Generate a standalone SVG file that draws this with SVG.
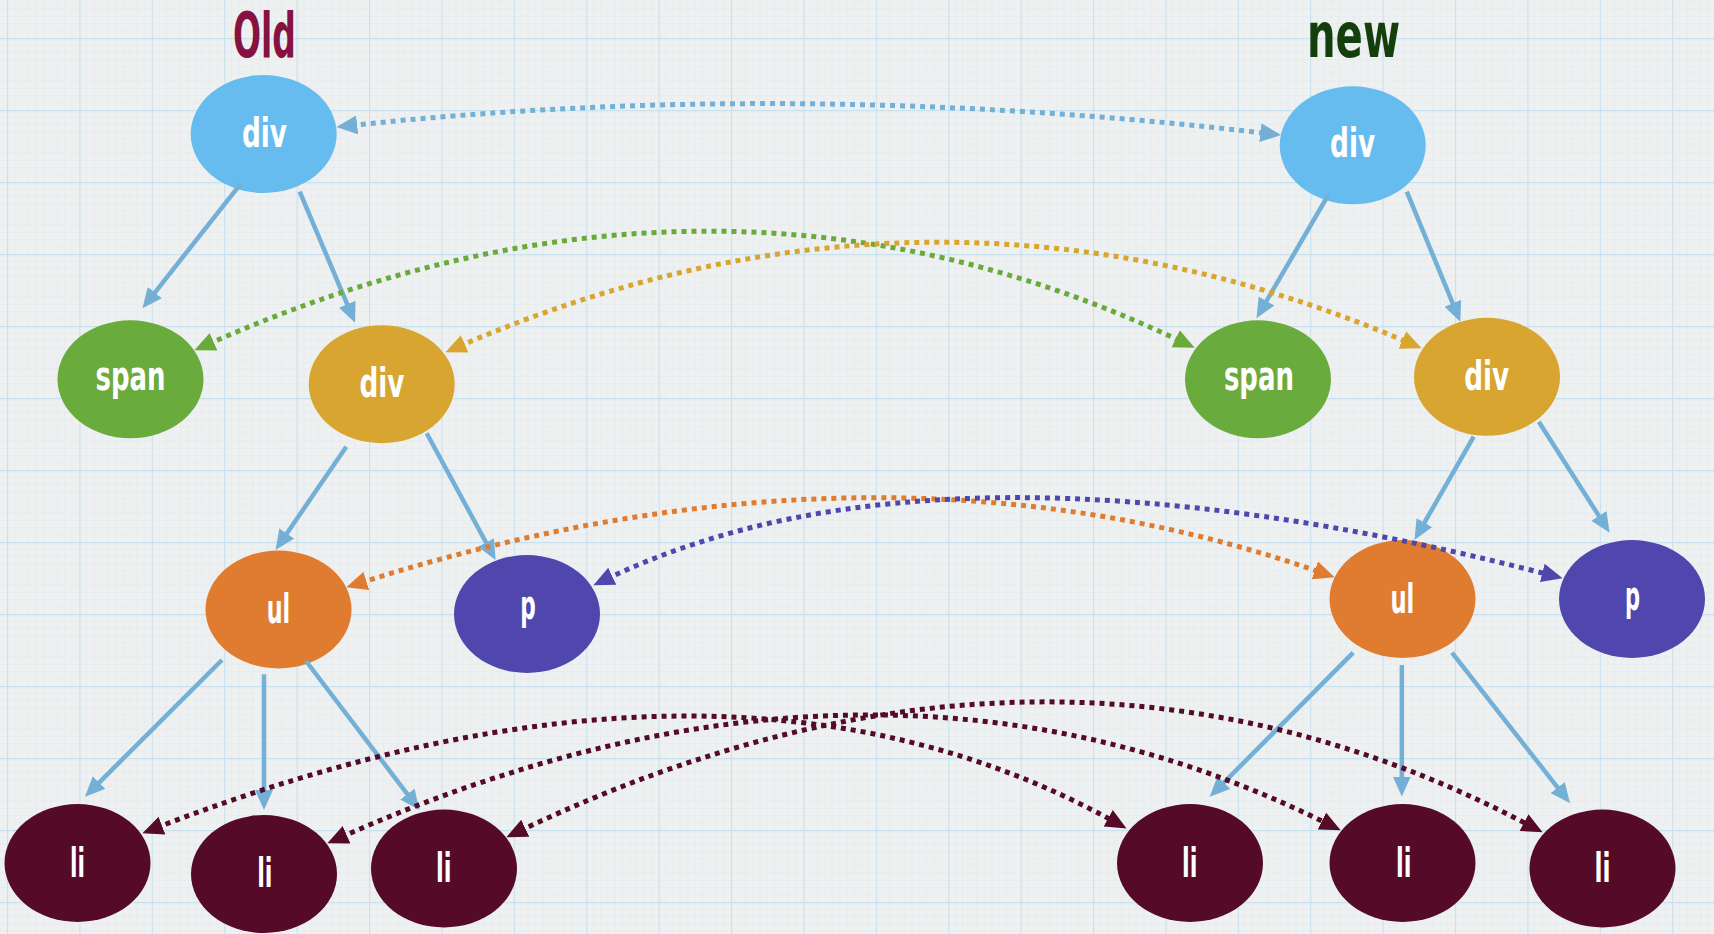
<svg xmlns="http://www.w3.org/2000/svg" width="1714" height="934" viewBox="0 0 1714 934">
  <defs>
    <pattern id="grid" x="7" y="38" width="72.4" height="72" patternUnits="userSpaceOnUse">
      <path d="M7.24,0V72M14.48,0V72M21.72,0V72M28.96,0V72M36.2,0V72M43.44,0V72M50.68,0V72M57.92,0V72M65.16,0V72M0,7.2H72.4M0,14.4H72.4M0,21.6H72.4M0,28.8H72.4M0,36H72.4M0,43.2H72.4M0,50.4H72.4M0,57.6H72.4M0,64.8H72.4" stroke="#DFEBF2" stroke-width="0.6" fill="none"/>
      <path d="M0.5,0V72M0,0.5H72.4" stroke="#C8E1EF" stroke-width="1.3" fill="none"/>
    </pattern>
    <marker id="m-tree" viewBox="0 0 20 18" markerWidth="20" markerHeight="18" refX="6" refY="9" orient="auto-start-reverse" markerUnits="userSpaceOnUse"><path d="M0,0 L20,9 L0,18 Z" fill="#74B0D6"/></marker>
    <marker id="m-blue" viewBox="0 0 20 18" markerWidth="21" markerHeight="19" refX="6" refY="9" orient="auto-start-reverse" markerUnits="userSpaceOnUse"><path d="M0,0 L20,9 L0,18 Z" fill="#74B0D6"/></marker>
    <marker id="m-green" viewBox="0 0 20 18" markerWidth="21" markerHeight="19" refX="6" refY="9" orient="auto-start-reverse" markerUnits="userSpaceOnUse"><path d="M0,0 L20,9 L0,18 Z" fill="#69AA3B"/></marker>
    <marker id="m-gold" viewBox="0 0 20 18" markerWidth="21" markerHeight="19" refX="6" refY="9" orient="auto-start-reverse" markerUnits="userSpaceOnUse"><path d="M0,0 L20,9 L0,18 Z" fill="#D8A52F"/></marker>
    <marker id="m-orange" viewBox="0 0 20 18" markerWidth="21" markerHeight="19" refX="6" refY="9" orient="auto-start-reverse" markerUnits="userSpaceOnUse"><path d="M0,0 L20,9 L0,18 Z" fill="#E07C2F"/></marker>
    <marker id="m-purple" viewBox="0 0 20 18" markerWidth="21" markerHeight="19" refX="6" refY="9" orient="auto-start-reverse" markerUnits="userSpaceOnUse"><path d="M0,0 L20,9 L0,18 Z" fill="#4F47AD"/></marker>
    <marker id="m-maroon" viewBox="0 0 20 18" markerWidth="21" markerHeight="19" refX="6" refY="9" orient="auto-start-reverse" markerUnits="userSpaceOnUse"><path d="M0,0 L20,9 L0,18 Z" fill="#550A28"/></marker>
  </defs>
  <style>
    .lbl { font-family: "Liberation Sans Narrow", "DejaVu Sans Condensed", "Liberation Sans", sans-serif; font-weight: bold; font-size: 41px; fill: #FFFFFF; text-anchor: middle; }
    .title { font-family: "Liberation Sans Narrow", "DejaVu Sans Condensed", "Liberation Sans", sans-serif; font-weight: bold; font-size: 62px; text-anchor: middle; }
    .blue { fill: #66BBEF; }
    .green { fill: #69AB3C; }
    .gold { fill: #D7A530; }
    .orange { fill: #E07C2F; }
    .purple { fill: #4F47AD; }
    .maroon { fill: #550A28; }
    .tree { stroke: #74B0D6; stroke-width: 4.5; fill: none; marker-end: url(#m-tree); }
    .dot { stroke-width: 5; fill: none; stroke-dasharray: 5 5; }
  </style>
  <rect x="0" y="0" width="1714" height="934" fill="#EFF0F0"/>
  <rect x="0" y="0" width="1714" height="934" fill="url(#grid)"/>

  <g id="title-old"><text class="title" x="264.5" y="56.5" fill="#861241" textLength="63" lengthAdjust="spacingAndGlyphs">Old</text></g>
  <g id="title-new"><text class="title" x="1353.5" y="56.5" fill="#143F0D" textLength="93" lengthAdjust="spacingAndGlyphs">new</text></g>

  <g id="old-div"><ellipse class="blue" cx="263.7" cy="134" rx="73" ry="59"/><text class="lbl" x="264.5" y="146.7" textLength="45" lengthAdjust="spacingAndGlyphs">div</text></g>
  <g id="old-span"><ellipse class="green" cx="130.5" cy="379.3" rx="73" ry="59"/><text class="lbl" x="130.5" y="390" textLength="70" lengthAdjust="spacingAndGlyphs">span</text></g>
  <g id="old-div2"><ellipse class="gold" cx="381.7" cy="384.2" rx="73" ry="59"/><text class="lbl" x="382" y="396.7" textLength="45" lengthAdjust="spacingAndGlyphs">div</text></g>
  <g id="old-ul"><ellipse class="orange" cx="278.5" cy="609.5" rx="73" ry="59"/><text class="lbl" x="278.4" y="623.3" textLength="23.5" lengthAdjust="spacingAndGlyphs">ul</text></g>
  <g id="old-p"><ellipse class="purple" cx="527" cy="614" rx="73" ry="59"/><text class="lbl" x="528" y="618.7" textLength="15.5" lengthAdjust="spacingAndGlyphs">p</text></g>
  <g id="old-li1"><ellipse class="maroon" cx="77.5" cy="863" rx="73" ry="59"/><text class="lbl" x="77.5" y="876.7" textLength="15" lengthAdjust="spacingAndGlyphs">li</text></g>
  <g id="old-li2"><ellipse class="maroon" cx="264" cy="874" rx="73" ry="59"/><text class="lbl" x="264.8" y="887.3" textLength="15.3" lengthAdjust="spacingAndGlyphs">li</text></g>
  <g id="old-li3"><ellipse class="maroon" cx="444" cy="868.5" rx="73" ry="59"/><text class="lbl" x="443.8" y="881.7" textLength="15.5" lengthAdjust="spacingAndGlyphs">li</text></g>

  <g id="new-div"><ellipse class="blue" cx="1352.7" cy="145.3" rx="73" ry="59"/><text class="lbl" x="1352.6" y="157.3" textLength="45" lengthAdjust="spacingAndGlyphs">div</text></g>
  <g id="new-span"><ellipse class="green" cx="1258" cy="379.3" rx="73" ry="59"/><text class="lbl" x="1258.9" y="390" textLength="70" lengthAdjust="spacingAndGlyphs">span</text></g>
  <g id="new-div2"><ellipse class="gold" cx="1487" cy="376.8" rx="73" ry="59"/><text class="lbl" x="1486.7" y="390" textLength="45" lengthAdjust="spacingAndGlyphs">div</text></g>
  <g id="new-ul"><ellipse class="orange" cx="1402.5" cy="599" rx="73" ry="59"/><text class="lbl" x="1402.4" y="612.7" textLength="24" lengthAdjust="spacingAndGlyphs">ul</text></g>
  <g id="new-p"><ellipse class="purple" cx="1632" cy="599" rx="73" ry="59"/><text class="lbl" x="1632.5" y="610.3" textLength="15" lengthAdjust="spacingAndGlyphs">p</text></g>
  <g id="new-li1"><ellipse class="maroon" cx="1190" cy="863" rx="73" ry="59"/><text class="lbl" x="1189.7" y="876.7" textLength="15.4" lengthAdjust="spacingAndGlyphs">li</text></g>
  <g id="new-li2"><ellipse class="maroon" cx="1402.5" cy="863" rx="73" ry="59"/><text class="lbl" x="1403.7" y="876.7" textLength="15.4" lengthAdjust="spacingAndGlyphs">li</text></g>
  <g id="new-li3"><ellipse class="maroon" cx="1602.5" cy="868.5" rx="73" ry="59"/><text class="lbl" x="1602.4" y="881.7" textLength="16" lengthAdjust="spacingAndGlyphs">li</text></g>

  <g id="connectors">
    <path class="tree" d="M241,183.3 L151.1,297.3"/>
    <path class="tree" d="M299.7,191.7 L349.6,309.8"/>
    <path class="tree" d="M346.3,446.7 L283.4,538.4"/>
    <path class="tree" d="M426.7,433.3 L488.9,547.7"/>
    <path class="tree" d="M222,660 L94.9,786.8"/>
    <path class="tree" d="M264,674.3 L264,796"/>
    <path class="tree" d="M306,661 L411,798.9"/>
    <path class="tree" d="M1328.3,195 L1263.5,306.2"/>
    <path class="tree" d="M1406.8,191.7 L1455,308.8"/>
    <path class="tree" d="M1473.7,436.7 L1421.4,527.9"/>
    <path class="tree" d="M1538.8,421.7 L1602.1,520.9"/>
    <path class="tree" d="M1353.2,652.7 L1219.6,786.8"/>
    <path class="tree" d="M1401.8,665 L1401.8,782.5"/>
    <path class="tree" d="M1452,652.7 L1561.4,792.3"/>

    <path class="dot" stroke="#74B0D6" marker-start="url(#m-blue)" marker-end="url(#m-blue)" d="M350.9,125.5 Q795,78 1266.6,133.4"/>
    <path class="dot" stroke="#69AA3B" marker-start="url(#m-green)" marker-end="url(#m-green)" d="M207.8,344.3 Q715,119.5 1181.4,341.5"/>
    <path class="dot" stroke="#D8A52F" marker-start="url(#m-gold)" marker-end="url(#m-gold)" d="M458.9,346.4 Q936,140 1408.1,342.5"/>
    <path class="dot" stroke="#E07C2F" marker-start="url(#m-orange)" marker-end="url(#m-orange)" d="M360.3,582.8 Q879.5,418 1320.8,572.4"/>
    <path class="dot" stroke="#4F47AD" marker-start="url(#m-purple)" marker-end="url(#m-purple)" d="M606.6,579 Q942,418.5 1548.4,574.5"/>
    <path class="dot" stroke="#550A28" marker-start="url(#m-maroon)" marker-end="url(#m-maroon)" d="M156.1,827.9 Q725,607.5 1113.7,821.3"/>
    <path class="dot" stroke="#550A28" marker-start="url(#m-maroon)" marker-end="url(#m-maroon)" d="M340.8,837.3 Q876,599.5 1327.5,823.8"/>
    <path class="dot" stroke="#550A28" marker-start="url(#m-maroon)" marker-end="url(#m-maroon)" d="M519.6,831 Q1055.5,575.5 1529.6,825.5"/>
  </g>
</svg>
